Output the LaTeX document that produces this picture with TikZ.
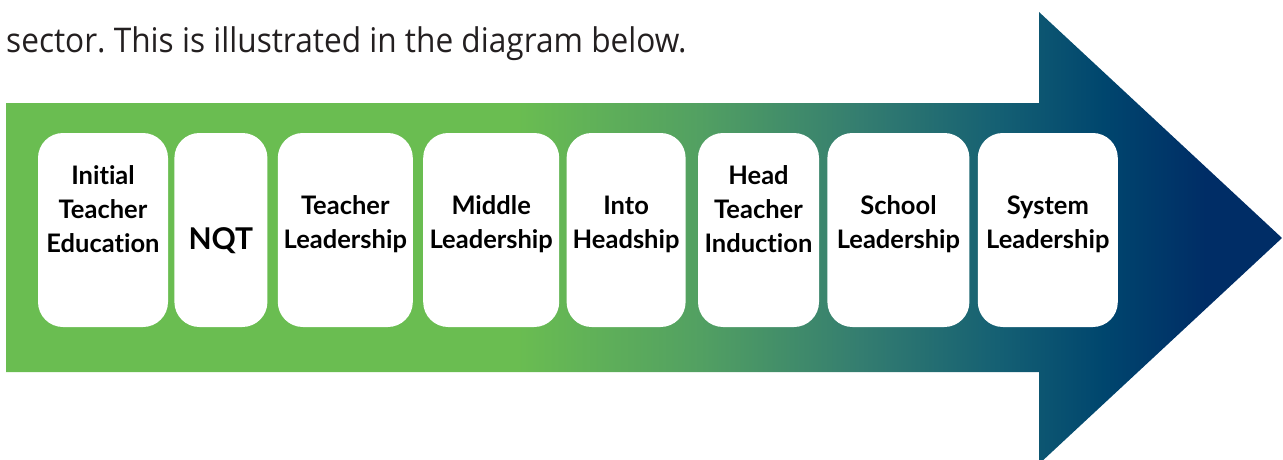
\documentclass[tikz,border=0pt]{standalone}
\usepackage{fontspec}
\setmainfont{Lato}[Ligatures=CommonOff]
\newfontfamily\introfont[FakeStretch=0.93]{Open Sans}
\usepackage{tikz}
\usetikzlibrary{positioning}
\frenchspacing

\definecolor{stagegreen}{RGB}{106,189,81}
\definecolor{stagenavy}{RGB}{0,45,102}
\definecolor{introgray}{RGB}{35,31,32}

% green to navy along the arrow
\pgfdeclarehorizontalshading{pathshade}{100bp}{%
  color(0bp)=(stagegreen); color(45bp)=(stagegreen);
  color(52.2bp)=(rgb,255:red,82;green,160;blue,98);
  color(58.5bp)=(rgb,255:red,52;green,125;blue,112);
  color(64bp)=(rgb,255:red,20;green,95;blue,115);
  color(68bp)=(rgb,255:red,0;green,70;blue,110);
  color(72bp)=(stagenavy); color(100bp)=(stagenavy)}

\begin{document}
\begin{tikzpicture}[x=1pt,y=-1pt,
		node distance=8pt,
		stage node/.style={rectangle,rounded corners=25pt,fill=white,draw=none,
			minimum height=194pt,inner sep=0pt},
		stage text/.style={rectangle,align=center,inner sep=0pt,text depth=0pt,
			anchor=south,font=\bfseries\fontsize{25.5}{34}\selectfont}]
		
		\useasboundingbox (0,0) rectangle (1283,460);
		\clip (0,0) rectangle (1283,460);
		
		\node [anchor=base west,inner sep=0pt,text=introgray,font=\introfont\fontsize{34}{40}\selectfont] (intro) at (6,53) {sector. This is illustrated in the diagram below.};
		
		\shade[shading=pathshade] (6,103) -- (1039,103) -- (1039,12) -- (1282,238)
			-- (1039,464) -- (1039,372) -- (6,372) -- cycle;
		
		\node[stage node,minimum width=130pt] (ite) at (103,230) {};
		\node[stage node,minimum width=93pt] (nqt) [right=6pt of ite] {};
		\node[stage node,minimum width=135pt] (tl) [right=10pt of nqt] {};
		\node[stage node,minimum width=136pt] (ml) [right=10pt of tl] {};
		\node[stage node,minimum width=119pt] (ih) [right=7pt of ml] {};
		\node[stage node,minimum width=121pt] (hti) [right=12pt of ih] {};
		\node[stage node,minimum width=142pt] (sl) [right=8pt of hti] {};
		\node[stage node,minimum width=140pt] (syl) [right=8pt of sl] {};
		
		\node[stage text] (ite-t) at (ite.center |- 0,253) {Initial\\Teacher\\Education};
		\node[stage text,font=\bfseries\fontsize{30}{34}\selectfont] (nqt-t) at (nqt.center |- 0,250) {NQT};
		\node[stage text] (tl-t) at (tl.center |- 0,249) {Teacher\\Leadership};
		\node[stage text] (ml-t) at (ml.center |- 0,249) {Middle\\Leadership};
		\node[stage text] (ih-t) at (ih.center |- 0,249) {Into\\Headship};
		\node[stage text] (hti-t) at (hti.center |- 0,253) {Head\\Teacher\\Induction};
		\node[stage text] (sl-t) at (sl.center |- 0,249) {School\\Leadership};
		\node[stage text] (syl-t) at (syl.center |- 0,249) {System\\Leadership};
		
		\end{tikzpicture}
\end{document}
